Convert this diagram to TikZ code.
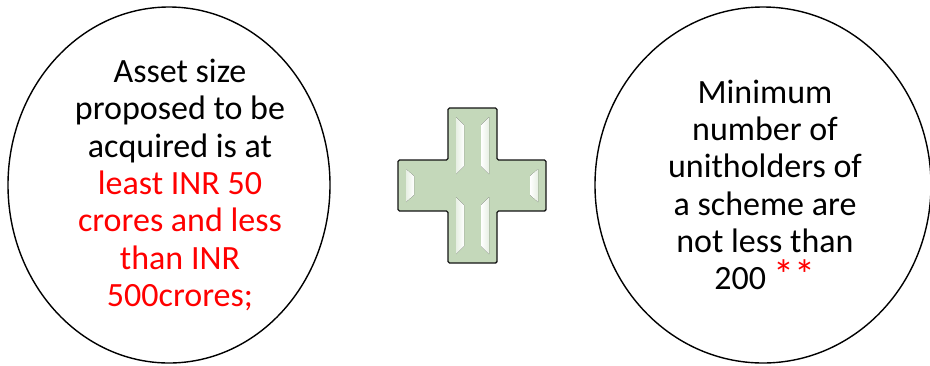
\documentclass[tikz,border=0pt]{standalone}
\usepackage{fontspec}
\setmainfont{Carlito}
\usepackage{tikz}
\usetikzlibrary{positioning, shapes.geometric}
\usepackage{xcolor}
\definecolor{plusgreen}{RGB}{196,216,186}
\definecolor{plusedge}{RGB}{20,20,20}
\definecolor{hotred}{RGB}{255,0,0}

\tikzset{
  bubble/.style={ellipse, draw=black, line width=1.4pt, inner sep=0pt},
  bubbletext/.style={align=center, font=\fontsize{34}{37.3}\selectfont, inner sep=0pt},
  shine/.style={draw=none, left color=plusgreen!40, right color=white}
}

\begin{document}
\begin{tikzpicture}[x=1pt, y=-1pt]
  \useasboundingbox (0,0) rectangle (930,365);

  % left circle
  \node[bubble, minimum width=322pt, minimum height=356pt] (assetring) at (169,185) {};
  \node[bubbletext] (asset) at (180,185) {Asset size\\proposed to be\\acquired is at\\
    \textcolor{hotred}{least INR 50}\\\textcolor{hotred}{crores and less}\\
    \textcolor{hotred}{than INR}\\\textcolor{hotred}{500crores;}};

  % plus sign
  \coordinate (plus) at (472,185);
  \draw[plusedge, line width=1.4pt, fill=plusgreen, rounded corners=1.5pt]
    (448,108) -- (497,108) -- (497,160) -- (546,160) -- (546,211) -- (497,211)
    -- (497,263) -- (448,263) -- (448,211) -- (398,211) -- (398,160) -- (448,160) -- cycle;
  \fill[shine] (456,117) -- (464,125) -- (464,166) -- (456,174) -- cycle;
  \fill[shine] (456,197) -- (464,205) -- (464,246) -- (456,254) -- cycle;
  \fill[shine, left color=white, right color=plusgreen!40] (489,117) -- (481,125) -- (481,166) -- (489,174) -- cycle;
  \fill[shine, left color=white, right color=plusgreen!40] (489,197) -- (481,205) -- (481,246) -- (489,254) -- cycle;
  \fill[shine] (406,169) -- (414,176) -- (414,195) -- (406,202) -- cycle;
  \fill[shine, left color=white, right color=plusgreen!40] (538,169) -- (530,176) -- (530,195) -- (538,202) -- cycle;

  % right circle
  \node[bubble, minimum width=336pt, minimum height=356pt] (holdring) at (763,185) {};
  \node[bubbletext] (holders) at (765,185) {Minimum\\number of\\unitholders of\\
    a scheme are\\not less than\\200 \textcolor{hotred}{\fontsize{42}{37.3}\selectfont **}};
\end{tikzpicture}
\end{document}
